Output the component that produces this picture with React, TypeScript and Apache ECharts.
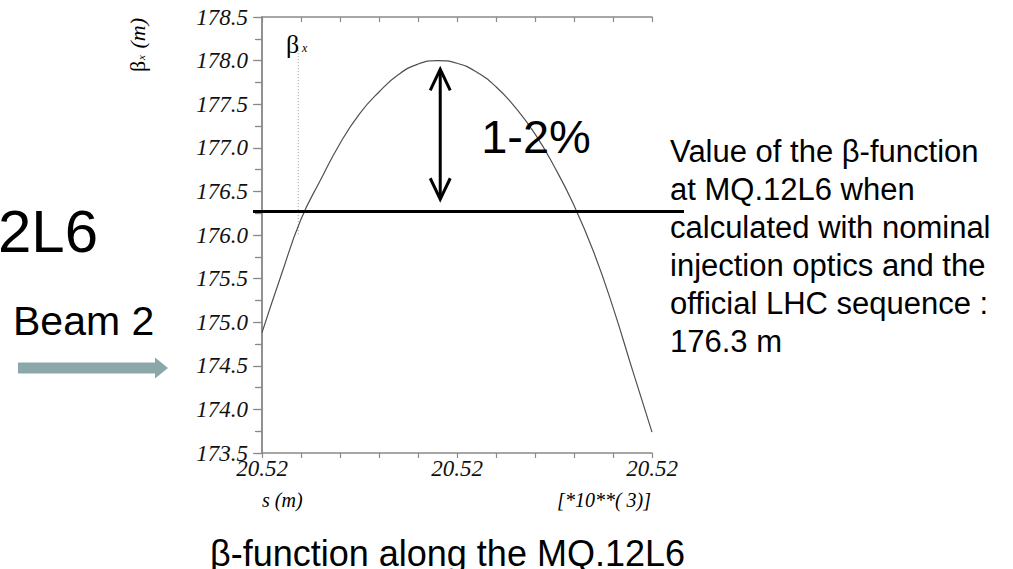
import React, { useEffect, useRef } from "react";
import * as echarts from "echarts";

// s positions along the magnet (axis units: tenths of the plotted span, labelled 20.52 ×10^3 m)
const S_POS = [0, 0.5, 1, 1.5, 2, 2.5, 3, 3.5, 4, 4.5, 5, 5.5, 6, 6.5, 7, 7.5, 8, 8.5, 9, 9.5, 10];
// beta_x values (m)
const BETA_X = [
  174.88, 175.55, 176.18, 176.63, 177.05, 177.39, 177.64, 177.84, 177.96, 178.0, 177.97,
  177.87, 177.7, 177.46, 177.16, 176.78, 176.34, 175.81, 175.17, 174.45, 173.74,
];
const X_LABELED = [0, 5, 10];
const X_LABEL = "20.52";
const Y_MIN = 173.5;
const Y_MAX = 178.5;
const Y_STEP = 0.5;
const NOMINAL_BETA = 176.27;
const PEAK_S = 4.57;
const ARROW_TOP = 177.9;
const ARROW_BOTTOM = 176.41;
const MARKER_S = 0.93;
const MARKER_TOP = 178.12;
const MARKER_BOTTOM = 176.0;
const NOTE_LINES = [
  "Value of the β-function",
  "at MQ.12L6 when",
  "calculated with nominal",
  "injection optics and the",
  "official LHC sequence :",
  "176.3 m",
];

const SANS = "'Liberation Sans', Arial, sans-serif";
const SERIF = "'Liberation Serif', 'Times New Roman', serif";
const AXIS_GRAY = "#8a8a8a";

export default function App() {
  const ref = useRef<HTMLDivElement>(null);
  useEffect(() => {
    if (!ref.current) return;
    const chart = echarts.init(ref.current, undefined, { renderer: "svg" });
    const axisLine = { lineStyle: { color: AXIS_GRAY, width: 1.5 } };
    const tickStyle = { color: AXIS_GRAY, width: 1.2 };
    chart.setOption({
      animation: false,
      backgroundColor: "#fff",
      grid: { left: 262, right: 361, top: 17, bottom: 116 },
      xAxis: [
        {
          type: "value",
          min: 0,
          max: 10,
          interval: 1,
          position: "bottom",
          axisLine,
          axisTick: { show: true, inside: false, length: 5, lineStyle: tickStyle },
          splitLine: { show: false },
          axisLabel: {
            showMinLabel: true,
            showMaxLabel: true,
            formatter: (v: number) => (X_LABELED.includes(Math.round(v)) && Math.abs(v - Math.round(v)) < 1e-6 ? X_LABEL : ""),
            fontFamily: SERIF,
            fontStyle: "italic",
            fontSize: 23,
            color: "#111",
            margin: 4,
          },
        },
        {
          type: "value",
          min: 0,
          max: 10,
          interval: 1,
          position: "top",
          axisLine,
          axisTick: { show: true, inside: true, length: 5, lineStyle: tickStyle },
          splitLine: { show: false },
          axisLabel: { show: false },
        },
      ],
      yAxis: [
        {
          type: "value",
          min: Y_MIN,
          max: Y_MAX,
          interval: Y_STEP,
          position: "left",
          axisLine: { show: true, ...axisLine },
          axisTick: { show: true, inside: false, length: 9, lineStyle: tickStyle },
          minorTick: { show: true, splitNumber: 2, length: 6, lineStyle: tickStyle },
          splitLine: { show: false },
          axisLabel: {
            formatter: (v: number) => v.toFixed(1),
            fontFamily: SERIF,
            fontStyle: "italic",
            fontSize: 23,
            color: "#111",
            margin: 14,
          },
        },
        {
          type: "value",
          min: Y_MIN,
          max: Y_MAX,
          interval: Y_STEP,
          position: "right",
          axisLine: { show: true, ...axisLine },
          axisTick: { show: true, inside: true, length: 7, lineStyle: tickStyle },
          minorTick: { show: true, splitNumber: 2, length: 7, lineStyle: tickStyle },
          splitLine: { show: false },
          axisLabel: { show: false },
        },
      ],
      series: [
        {
          type: "line",
          xAxisIndex: 0,
          yAxisIndex: 0,
          data: S_POS.map((s, i) => [s, BETA_X[i]]),
          smooth: true,
          symbol: "none",
          lineStyle: { color: "#505050", width: 1.2 },
          z: 3,
        },
      ],
    });

    const px = (x: number, y: number) => chart.convertToPixel({ gridIndex: 0 }, [x, y]) as number[];
    const [, yNom] = px(0, NOMINAL_BETA);
    const [ax, ayTop] = px(PEAK_S, ARROW_TOP);
    const [, ayBot] = px(PEAK_S, ARROW_BOTTOM);
    const [mx, myTop] = px(MARKER_S, MARKER_TOP);
    const [, myBot] = px(MARKER_S, MARKER_BOTTOM);

    const noteTexts = NOTE_LINES.map((t, i) => ({
      type: "text",
      x: 670,
      y: 151 + i * 38,
      style: { text: t, fontFamily: SANS, fontSize: 31, fill: "#000", align: "left", verticalAlign: "middle" },
    }));

    chart.setOption({
      graphic: [
        // dotted marker line
        {
          type: "line",
          shape: { x1: mx, y1: myTop, x2: mx, y2: myBot },
          style: { stroke: "#999", lineWidth: 1, lineDash: [1, 2] },
          z: 2,
        },
        // nominal beta line
        {
          type: "line",
          shape: { x1: 253, y1: yNom, x2: 684, y2: yNom },
          style: { stroke: "#000", lineWidth: 3 },
          z: 10,
        },
        // double arrow
        {
          type: "line",
          shape: { x1: ax, y1: ayTop + 1, x2: ax, y2: ayBot - 1 },
          style: { stroke: "#000", lineWidth: 3 },
          z: 10,
        },
        {
          type: "polyline",
          shape: { points: [[ax - 10, ayTop + 21], [ax, ayTop], [ax + 10, ayTop + 21]] },
          style: { stroke: "#000", lineWidth: 3, fill: "none" },
          z: 10,
        },
        {
          type: "polyline",
          shape: { points: [[ax - 10, ayBot - 21], [ax, ayBot], [ax + 10, ayBot - 21]] },
          style: { stroke: "#000", lineWidth: 3, fill: "none" },
          z: 10,
        },
        {
          type: "text",
          x: 536,
          y: 136,
          style: { text: "1-2%", fontFamily: SANS, fontSize: 47, fill: "#000", align: "center", verticalAlign: "middle" },
          z: 10,
        },
        // beta_x legend label
        {
          type: "text",
          x: 286,
          y: 44,
          style: { text: "β", fontFamily: SERIF, fontSize: 26, fill: "#000", align: "left", verticalAlign: "middle" },
        },
        {
          type: "text",
          x: 302,
          y: 48,
          style: { text: "x", fontFamily: SERIF, fontStyle: "italic", fontSize: 12, fill: "#000", align: "left", verticalAlign: "middle" },
        },
        // y axis title (rotated)
        {
          type: "group",
          x: 137,
          y: 44,
          rotation: Math.PI / 2,
          children: [
            {
              type: "text",
              x: -28,
              y: 0,
              style: { text: "β", fontFamily: SERIF, fontSize: 22, fill: "#000", align: "left", verticalAlign: "middle" },
            },
            {
              type: "text",
              x: -16,
              y: 4,
              style: { text: "x", fontFamily: SERIF, fontStyle: "italic", fontSize: 11, fill: "#000", align: "left", verticalAlign: "middle" },
            },
            {
              type: "text",
              x: -10,
              y: 0,
              style: { text: " (m)", fontFamily: SERIF, fontStyle: "italic", fontSize: 22, fill: "#000", align: "left", verticalAlign: "middle" },
            },
          ],
        },
        // x axis captions
        {
          type: "text",
          x: 262,
          y: 500,
          style: { text: "s (m)", fontFamily: SERIF, fontStyle: "italic", fontSize: 20, fill: "#000", align: "left", verticalAlign: "middle" },
        },
        {
          type: "text",
          x: 651,
          y: 500,
          style: { text: "[*10**( 3)]", fontFamily: SERIF, fontStyle: "italic", fontSize: 20, fill: "#000", align: "right", verticalAlign: "middle" },
        },
        // slide texts
        {
          type: "text",
          x: -2,
          y: 231,
          style: { text: "2L6", fontFamily: SANS, fontSize: 60, fill: "#000", align: "left", verticalAlign: "middle" },
        },
        {
          type: "text",
          x: 13,
          y: 321,
          style: { text: "Beam 2", fontFamily: SANS, fontSize: 41, fill: "#000", align: "left", verticalAlign: "middle" },
        },
        {
          type: "polygon",
          shape: {
            points: [
              [18, 362.5],
              [155, 362.5],
              [155, 357.5],
              [168, 368],
              [155, 378.5],
              [155, 373.5],
              [18, 373.5],
            ],
          },
          style: { fill: "#8ca7a7" },
        },
        {
          type: "text",
          x: 210,
          y: 553,
          style: { text: "β-function along the MQ.12L6", fontFamily: SANS, fontSize: 36, fill: "#000", align: "left", verticalAlign: "middle" },
        },
        ...noteTexts,
      ],
    });

    return () => chart.dispose();
  }, []);
  return <div ref={ref} style={{ position: "absolute", left: 0, top: 0, width: 1013, height: 569 }} />;
}
